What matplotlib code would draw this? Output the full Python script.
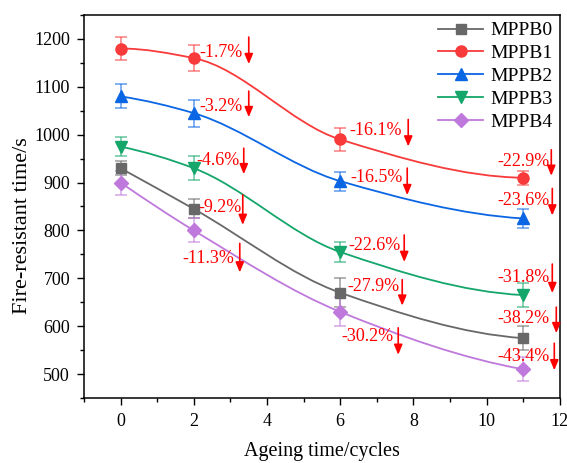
import numpy as np
import matplotlib
matplotlib.use("Agg")
import matplotlib.pyplot as plt
from matplotlib.path import Path
from matplotlib.patches import PathPatch
from matplotlib.lines import Line2D
from matplotlib.transforms import offset_copy

plt.rcParams['font.family'] = ['Liberation Serif', 'DejaVu Serif']

cycles = [0, 2, 6, 11]
names = ["MPPB0", "MPPB1", "MPPB2", "MPPB3", "MPPB4"]
mppb0 = [930, 845, 670, 575]
mppb1 = [1180, 1160, 990, 910]
mppb2 = [1080, 1045, 903, 825]
mppb3 = [975, 930, 755, 665]
mppb4 = [900, 800, 630, 510]
err0 = [15, 20, 30, 25]
err1 = [25, 28, 25, 15]
err2 = [25, 28, 20, 20]
err3 = [20, 25, 20, 25]
err4 = [25, 25, 30, 25]

# percentage change labels (series index, point index, text)
labels = [
    (1, 1, "-1.7%"), (2, 1, "-3.2%"), (3, 1, "-4.6%"), (0, 1, "-9.2%"), (4, 1, "-11.3%"),
    (1, 2, "-16.1%"), (2, 2, "-16.5%"), (3, 2, "-22.6%"), (0, 2, "-27.9%"), (4, 2, "-30.2%"),
    (1, 3, "-22.9%"), (2, 3, "-23.6%"), (3, 3, "-31.8%"), (0, 3, "-38.2%"), (4, 3, "-43.4%"),
]
# layout: text dx, dy, ha, arrow dx, arrow top, arrow bottom (pixels from point)
label_pos = [
    (6, 6, 'left', 55, 21, -6), (6, 7, 'left', 55, 22, -4), (3, 8, 'left', 50, 20, -6),
    (5, 1, 'left', 49, 14, -16), (-11, -28, 'left', 46, -13, -42),
    (9, 9, 'left', 68, 20, -7), (10, 4, 'left', 67, 13, -14), (8, 6, 'left', 64, 17, -10),
    (7, 6, 'left', 62, 13, -13), (1, -25, 'left', 58, -16, -43),
    (0, 16, 'center', 28, 28, 2), (0, 18, 'center', 29, 30, 3), (0, 18, 'center', 29, 31, 2),
    (0, 20, 'center', 33, 31, 5), (0, 13, 'center', 31, 26, -1),
]

series = [mppb0, mppb1, mppb2, mppb3, mppb4]
errs = [err0, err1, err2, err3, err4]
colors = ['#686868', '#F83A3A', '#0B66E4', '#14A66A', '#BF78DB']
markers = ['s', 'o', '^', 'v', 'D']
msizes = [7, 8, 8.5, 8.5, 7]


def smooth_path(x, y):
    # monotone cubic (pchip) drawn as bezier segments
    x = np.asarray(x, float)
    y = np.asarray(y, float)
    h = np.diff(x)
    d = np.diff(y) / h
    n = len(x)
    m = np.zeros(n)
    for k in range(1, n - 1):
        if d[k - 1] * d[k] > 0:
            w1 = 2 * h[k] + h[k - 1]
            w2 = h[k] + 2 * h[k - 1]
            m[k] = (w1 + w2) / (w1 / d[k - 1] + w2 / d[k])

    def end(h0, h1, d0, d1):
        s = ((2 * h0 + h1) * d0 - h0 * d1) / (h0 + h1)
        if np.sign(s) != np.sign(d0):
            return 0.0
        if np.sign(d0) != np.sign(d1) and abs(s) > 3 * abs(d0):
            return 3 * d0
        return s

    m[0] = end(h[0], h[1], d[0], d[1])
    m[-1] = end(h[-1], h[-2], d[-1], d[-2])
    verts = [(x[0], y[0])]
    codes = [Path.MOVETO]
    for i in range(n - 1):
        verts += [(x[i] + h[i] / 3, y[i] + m[i] * h[i] / 3),
                  (x[i + 1] - h[i] / 3, y[i + 1] - m[i + 1] * h[i] / 3),
                  (x[i + 1], y[i + 1])]
        codes += [Path.CURVE4] * 3
    return Path(verts, codes)


fig = plt.figure(figsize=(5.67, 4.63), dpi=100)
ax = fig.add_axes([0.148, 0.1404, 0.8395, 0.8272])

handles = []
for vals, e, c, mk, ms, name in zip(series, errs, colors, markers, msizes, names):
    ax.errorbar(cycles, vals, yerr=e, fmt='none', ecolor=c, alpha=0.6,
                elinewidth=1.2, capsize=4, capthick=1.2, zorder=2)
    ax.add_patch(PathPatch(smooth_path(cycles, vals), facecolor='none',
                           edgecolor=c, lw=1.3, zorder=3))
    ax.plot(cycles, vals, ls='none', marker=mk, ms=ms, color=c, zorder=4)
    handles.append(Line2D([], [], color=c, lw=1.3, marker=mk, ms=ms, label=name))

for (si, pi, txt), (tdx, tdy, ha, adx, atop, abot) in zip(labels, label_pos):
    px, py = cycles[pi], series[si][pi]
    ax.annotate(txt, xy=(px, py), xytext=(tdx, tdy), textcoords='offset pixels',
                ha=ha, va='center', color='#FF0000', fontsize=13, zorder=5)
    ax.annotate('', xy=(px, py),
                xycoords=offset_copy(ax.transData, fig=fig, x=adx, y=abot, units='dots'),
                xytext=(px, py),
                textcoords=offset_copy(ax.transData, fig=fig, x=adx, y=atop, units='dots'),
                arrowprops=dict(arrowstyle='-|>,head_length=0.6,head_width=0.25',
                                color='#FF0000', lw=1.2, shrinkA=0, shrinkB=0,
                                mutation_scale=10), zorder=5)

ax.set_xlim(-1, 12)
ax.set_ylim(450, 1250)
ax.set_xticks(range(0, 13, 2))
ax.set_xticks(range(-1, 12, 2), minor=True)
ax.set_yticks(range(500, 1201, 100))
ax.set_yticks(range(450, 1251, 100), minor=True)
ax.tick_params(which='both', direction='out', labelsize=13, width=1)
ax.tick_params(which='major', length=5)
ax.tick_params(which='minor', length=3)
ax.tick_params(axis='y', pad=5)
ax.tick_params(axis='x', pad=6)
for s in ax.spines.values():
    s.set_linewidth(1.1)

ax.set_xlabel("Ageing time/cycles", fontsize=14.5, labelpad=8.5)
ax.set_ylabel("Fire-resistant time/s", fontsize=16, labelpad=6)
ax.yaxis.set_label_coords(-0.11, 0.45)

ax.legend(handles=handles, loc='upper right', frameon=False, fontsize=14,
          handlelength=2.3, labelspacing=0.27, borderaxespad=0.1, borderpad=0.25,
          handletextpad=0.4)

fig.savefig("out.png", dpi=100)
